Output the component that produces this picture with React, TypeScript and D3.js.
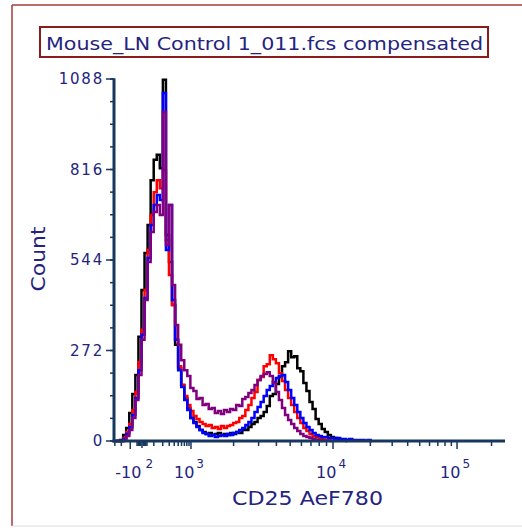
import React from "react";
import * as d3 from "d3";

const titleText = "Mouse_LN Control 1_011.fcs compensated";
const xLabel = "CD25 AeF780";
const yLabel = "Count";
const yMax = 1088;
const yTickValues = [0, 272, 544, 816, 1088];
const nChannels = 128;

// display anchors of the biexponential CD25 axis (value -> channel)
const anchorValues = [-315, 0, 1e3, 1e4, 1e5, 262144];
const anchorChannels = [0, 9.17, 25.2, 71.7, 112.3, 128];
const majorTicks = [-100, 1e3, 1e4, 1e5];
const majorLabels = [
  { base: "-10", exp: "2" },
  { base: "10", exp: "3" },
  { base: "10", exp: "4" },
  { base: "10", exp: "5" },
];
const zeroTicks = [-40, -30, -20, -10, 0, 10, 20, 30, 40];
const minorTicks = [
  -300, -200,
  100, 200, 300, 400, 500, 600, 700, 800, 900,
  2e3, 3e3, 4e3, 5e3, 6e3, 7e3, 8e3, 9e3,
  2e4, 3e4, 4e4, 5e4, 6e4, 7e4, 8e4, 9e4,
  2e5,
];

// histogram counts per display channel
const blackCounts = [
  0, 0, 3, 18, 39, 84, 141, 198, 313, 454, 565, 649, 784, 845, 860, 820, 1086, 619, 538, 409,
  289, 219, 168, 129, 99, 69, 57, 45, 33, 27, 21, 24, 18, 21, 24, 18, 21, 18, 24, 21,
  27, 24, 33, 33, 42, 51, 57, 69, 75, 87, 105, 135, 141, 171, 192, 225, 237, 270, 252, 255,
  219, 210, 174, 150, 117, 96, 66, 51, 36, 27, 18, 12, 9, 6, 3, 3, 0,
];
const redCounts = [
  0, 0, 0, 9, 27, 51, 93, 147, 237, 334, 454, 574, 679, 748, 784, 760, 814, 604, 499, 409,
  304, 225, 168, 135, 108, 90, 75, 66, 57, 51, 45, 48, 39, 42, 36, 45, 39, 45, 48, 54,
  57, 69, 75, 93, 108, 129, 147, 183, 192, 225, 231, 258, 246, 234, 204, 180, 153, 129, 108, 87,
  69, 54, 39, 30, 21, 15, 12, 9, 6, 3, 3, 0,
];
const blueCounts = [
  0, 0, 0, 6, 21, 42, 78, 129, 213, 319, 430, 550, 649, 709, 739, 724, 1046, 574, 709, 424,
  304, 213, 162, 123, 93, 69, 54, 42, 33, 24, 21, 15, 18, 12, 15, 18, 15, 21, 18, 24,
  27, 33, 39, 48, 57, 69, 87, 102, 117, 135, 153, 165, 177, 189, 195, 198, 177, 153, 129, 108,
  87, 69, 54, 42, 33, 24, 18, 15, 12, 12, 9, 9, 6, 9, 6, 6, 3, 6, 3, 3,
  3, 3, 1, 3, 0,
];
const purpleCounts = [
  0, 0, 0, 3, 15, 33, 69, 123, 198, 304, 424, 538, 628, 688, 709, 679, 989, 589, 709, 469,
  349, 289, 243, 213, 195, 159, 150, 126, 129, 108, 111, 96, 99, 84, 90, 81, 93, 87, 96, 93,
  108, 105, 126, 132, 144, 153, 168, 183, 195, 201, 207, 195, 174, 147, 123, 99, 78, 63, 51, 39,
  30, 21, 15, 12, 9, 6, 3, 3, 0,
];

const seriesNames = ["black", "red", "blue", "purple"];
const seriesColors = ["#000000", "#ff0000", "#0000ff", "#800080"];
const seriesValues = [blackCounts, redCounts, blueCounts, purpleCounts];

const W = 522;
const H = 528;
const plot = { left: 114, right: 505, top: 79, bottom: 441 };
const axisColor = "#17375e";
const textColor = "#24247f";
const font = "'DejaVu Sans', Verdana, sans-serif";

const biexT = (v: number) => Math.asinh(v / 150) / Math.LN10;
const channelOf = d3.scaleLinear().domain(anchorValues.map(biexT)).range(anchorChannels);

export default function App() {
  const x = d3.scaleLinear().domain([0, nChannels]).range([plot.left, plot.right]);
  const y = d3.scaleLinear().domain([0, yMax]).range([plot.bottom, plot.top]);
  const xv = (v: number) => x(channelOf(biexT(v)));
  const line = d3
    .line<number>()
    .x((_, i) => x(i + 0.5))
    .y((d) => y(d))
    .curve(d3.curveStep);
  const yMinor = d3.range(0, yMax + 1, yMax / 16);

  return (
    <svg
      width={W}
      height={H}
      style={{ position: "absolute", left: 0, top: 0, background: "#ffffff" }}
    >
      <rect x={0} y={0} width={W} height={H} fill="#ffffff" />
      {/* outer frame */}
      <line x1={12} y1={5} x2={W} y2={5} stroke="#a33a3a" strokeWidth={1.5} />
      <line x1={12} y1={5} x2={12} y2={526} stroke="#a33a3a" strokeWidth={1.5} />
      <line x1={12} y1={526} x2={W} y2={526} stroke="#dddddd" strokeWidth={1} />

      {/* title box */}
      <rect x={40} y={27} width={448} height={30} fill="none" stroke="#8b1c1c" strokeWidth={2} />
      <text
        x={46}
        y={50}
        fontFamily={font}
        fontSize={18}
        fill={textColor}
        textLength={437}
        lengthAdjust="spacingAndGlyphs"
      >
        {titleText}
      </text>

      {/* series */}
      <g fill="none" strokeWidth={2.5} strokeLinejoin="miter">
        {seriesValues.map((vals, k) => (
          <path key={seriesNames[k]} d={line(vals) || ""} stroke={seriesColors[k]} />
        ))}
      </g>

      {/* y axis */}
      <g stroke={axisColor}>
        {yMinor.map((v) => (
          <line key={"ym" + v} x1={plot.left - 4} x2={plot.left} y1={y(v)} y2={y(v)} strokeWidth={1.5} />
        ))}
        {yTickValues.map((v) => (
          <line key={"yM" + v} x1={plot.left - 8} x2={plot.left} y1={y(v)} y2={y(v)} strokeWidth={1.5} />
        ))}
        <line x1={plot.left} x2={plot.left} y1={plot.top - 0.75} y2={plot.bottom + 1.5} strokeWidth={3} />
      </g>
      {yTickValues.map((v) => (
        <text
          key={"yl" + v}
          x={plot.left - 10}
          y={y(v) + 5}
          textAnchor="end"
          fontFamily={font}
          fontSize={15}
          letterSpacing={1.8}
          fill={textColor}
        >
          {v}
        </text>
      ))}

      {/* x axis */}
      <g stroke={axisColor}>
        {minorTicks.map((v) => (
          <line key={"xm" + v} x1={xv(v)} x2={xv(v)} y1={plot.bottom} y2={plot.bottom + 5} strokeWidth={1.5} />
        ))}
        {zeroTicks.map((v) => (
          <line key={"xz" + v} x1={xv(v)} x2={xv(v)} y1={plot.bottom} y2={plot.bottom + (v === 0 ? 7 : 5)} strokeWidth={1.5} />
        ))}
        {majorTicks.map((v) => (
          <line key={"xM" + v} x1={xv(v)} x2={xv(v)} y1={plot.bottom} y2={plot.bottom + 8} strokeWidth={1.5} />
        ))}
        <line x1={plot.left - 1.5} x2={plot.right} y1={plot.bottom} y2={plot.bottom} strokeWidth={3} />
      </g>
      {majorTicks.map((v, i) => (
        <text
          key={"xl" + v}
          x={xv(v) + (v < 0 ? -15 : -17)}
          y={478}
          fontFamily={font}
          fontSize={16}
          fill={textColor}
        >
          {majorLabels[i].base}
          <tspan dx={v < 0 ? 4 : 2} dy={-10} fontSize={12}>
            {majorLabels[i].exp}
          </tspan>
        </text>
      ))}

      {/* axis titles */}
      <text
        x={307.5}
        y={505}
        textAnchor="middle"
        fontFamily={font}
        fontSize={19}
        fill={textColor}
        textLength={151}
        lengthAdjust="spacingAndGlyphs"
      >
        {xLabel}
      </text>
      <text
        transform="translate(45,259) rotate(-90)"
        textAnchor="middle"
        fontFamily={font}
        fontSize={19}
        fill={textColor}
        textLength={65}
        lengthAdjust="spacingAndGlyphs"
      >
        {yLabel}
      </text>
    </svg>
  );
}
